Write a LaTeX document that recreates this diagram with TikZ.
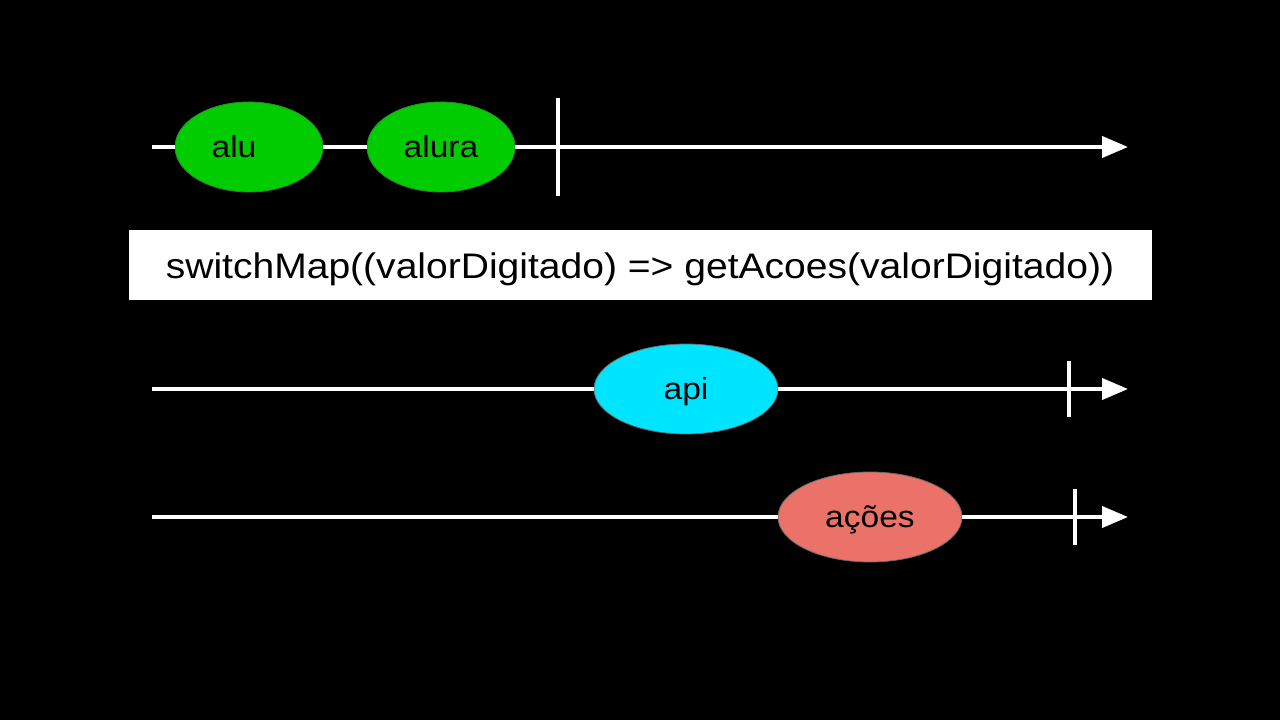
\documentclass[tikz,border=0pt]{standalone}
\usepackage{fontspec}
\setmainfont{Liberation Sans}[FakeStretch=1.1]
\usepackage{xcolor}
\usepackage{tikz}
\usetikzlibrary{arrows.meta,shapes.geometric}
\definecolor{bg}{HTML}{000000}
\definecolor{text}{HTML}{FFFFFF}
\definecolor{green}{HTML}{00CC00}
\definecolor{greenedge}{HTML}{2E8B2E}
\definecolor{cyan}{HTML}{00E5FF}
\definecolor{salmon}{HTML}{EA7268}
\definecolor{edge}{HTML}{6B6B6B}
\tikzset{
  line/.style={draw=text, line width=4pt},
  arrowline/.style={line, -{Triangle[length=26pt,width=21pt]}},
  tick/.style={draw=text, line width=3.5pt},
  event/.style={ellipse, minimum width=148pt, minimum height=90pt, inner sep=0pt,
    line width=0.8pt, text=black, text height=20pt, text depth=0pt,
    font=\fontsize{30.5}{34}\selectfont},
  wide/.style={minimum width=184pt},
  opbox/.style={fill=white, draw=white, minimum width=1022pt, minimum height=69pt,
    inner sep=0pt, text=black, text height=27pt, text depth=0pt,
    font=\fontsize{35.5}{40}\selectfont}
}

\begin{document}
\begin{tikzpicture}[x=1pt,y=-1pt]
  \fill[bg] (0,0) rectangle (1280,720);
  \useasboundingbox (0,0) rectangle (1280,720);

  % input stream
  \coordinate (s1) at (152,147);
  \coordinate (e1) at (1128,147);
  \node[event, fill=green, draw=greenedge] (alu) at (249,147) {alu\kern30pt};
  \node[event, fill=green, draw=greenedge] (alura) at (441,147) {alura};
  \draw[line] (s1) -- (alu.west);
  \draw[line] (alu.east) -- (alura.west);
  \draw[arrowline] (alura.east) -- (e1);
  \coordinate (t1a) at (558,98);
  \coordinate (t1b) at (558,196);
  \draw[tick] (t1a) -- (t1b);

  % operator
  \node[opbox] (op) at (640,264.5) {switchMap((valorDigitado) => getAcoes(valorDigitado))};

  % api stream
  \coordinate (s2) at (152,389);
  \coordinate (e2) at (1128,389);
  \node[event, wide, fill=cyan, draw=edge] (api) at (686,389) {api};
  \draw[line] (s2) -- (api.west);
  \draw[arrowline] (api.east) -- (e2);
  \coordinate (t2a) at (1069,361);
  \coordinate (t2b) at (1069,417);
  \draw[tick] (t2a) -- (t2b);

  % result stream
  \coordinate (s3) at (152,517);
  \coordinate (e3) at (1128,517);
  \node[event, wide, fill=salmon, draw=edge] (acoes) at (870,517) {ações};
  \draw[line] (s3) -- (acoes.west);
  \draw[arrowline] (acoes.east) -- (e3);
  \coordinate (t3a) at (1075,489);
  \coordinate (t3b) at (1075,545);
  \draw[tick] (t3a) -- (t3b);
\end{tikzpicture}
\end{document}
